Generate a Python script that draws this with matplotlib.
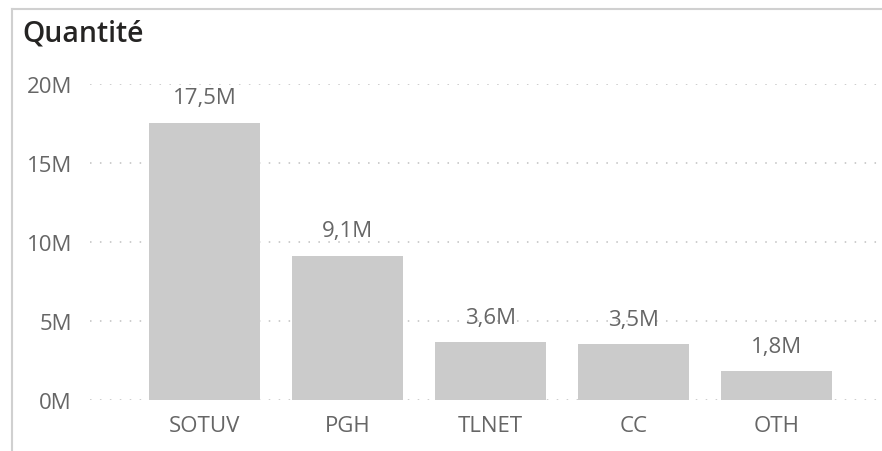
import matplotlib
matplotlib.use("Agg")
import matplotlib.pyplot as plt
from matplotlib.lines import Line2D
from matplotlib.ticker import FuncFormatter

categories = ["SOTUV", "PGH", "TLNET", "CC", "OTH"]
values_m = [17.53, 9.14, 3.64, 3.52, 1.83]
y_ticks = [0, 5, 10, 15, 20]

BAR_COLOR = "#cbcbcb"
TEXT_COLOR = "#666666"
TITLE_COLOR = "#252423"
FONT = ["Open Sans", "DejaVu Sans"]

W, H = 882, 452
fig = plt.figure(figsize=(W / 100, H / 100), dpi=100)
plt.rcParams["font.family"] = FONT

# plot area in pixel coordinates
left, right, top, bottom = 90, 882, 85, 401
ax = fig.add_axes([left / W, 1 - bottom / H, (right - left) / W, (bottom - top) / H])

x = range(len(categories))
bars = ax.bar(x, values_m, width=0.776, color=BAR_COLOR, zorder=2)
ax.set_xlim(-0.8, len(categories) - 1 + 0.74)
ax.set_ylim(0, 20)

ax.set_yticks(y_ticks)
ax.yaxis.set_major_formatter(FuncFormatter(lambda v, _: f"{v:.0f}M"))
ax.set_xticks(list(x))
ax.set_xticklabels(categories)
ax.tick_params(axis="both", length=0, labelsize=16, colors=TEXT_COLOR)
ax.tick_params(axis="y", pad=13)
ax.tick_params(axis="x", pad=10.5)
for s in ax.spines.values():
    s.set_visible(False)
ax.grid(axis="y", color="#c0c0c0", linewidth=1.1, linestyle=(0, (1, 5.5)), zorder=1)
ax.set_axisbelow(True)

for rect, v in zip(bars, values_m):
    label = f"{v:.1f}M".replace(".", ",")
    ax.annotate(label, (rect.get_x() + rect.get_width() / 2, v),
                xytext=(0, 10.5), textcoords="offset points", ha="center", va="bottom",
                fontsize=16, color=TEXT_COLOR)

fig.text(22 / W, 1 - 42 / H, "Quantité", fontsize=20.5, fontweight="semibold",
         color=TITLE_COLOR, ha="left", va="baseline")

# card border (top and left edges visible)
fig.add_artist(Line2D([12 / W, 1], [1 - 10 / H, 1 - 10 / H], color="#d0d0d0", linewidth=1.5))
fig.add_artist(Line2D([12 / W, 12 / W], [0, 1 - 10 / H], color="#d0d0d0", linewidth=1.5))

fig.savefig("out.png", dpi=100)
